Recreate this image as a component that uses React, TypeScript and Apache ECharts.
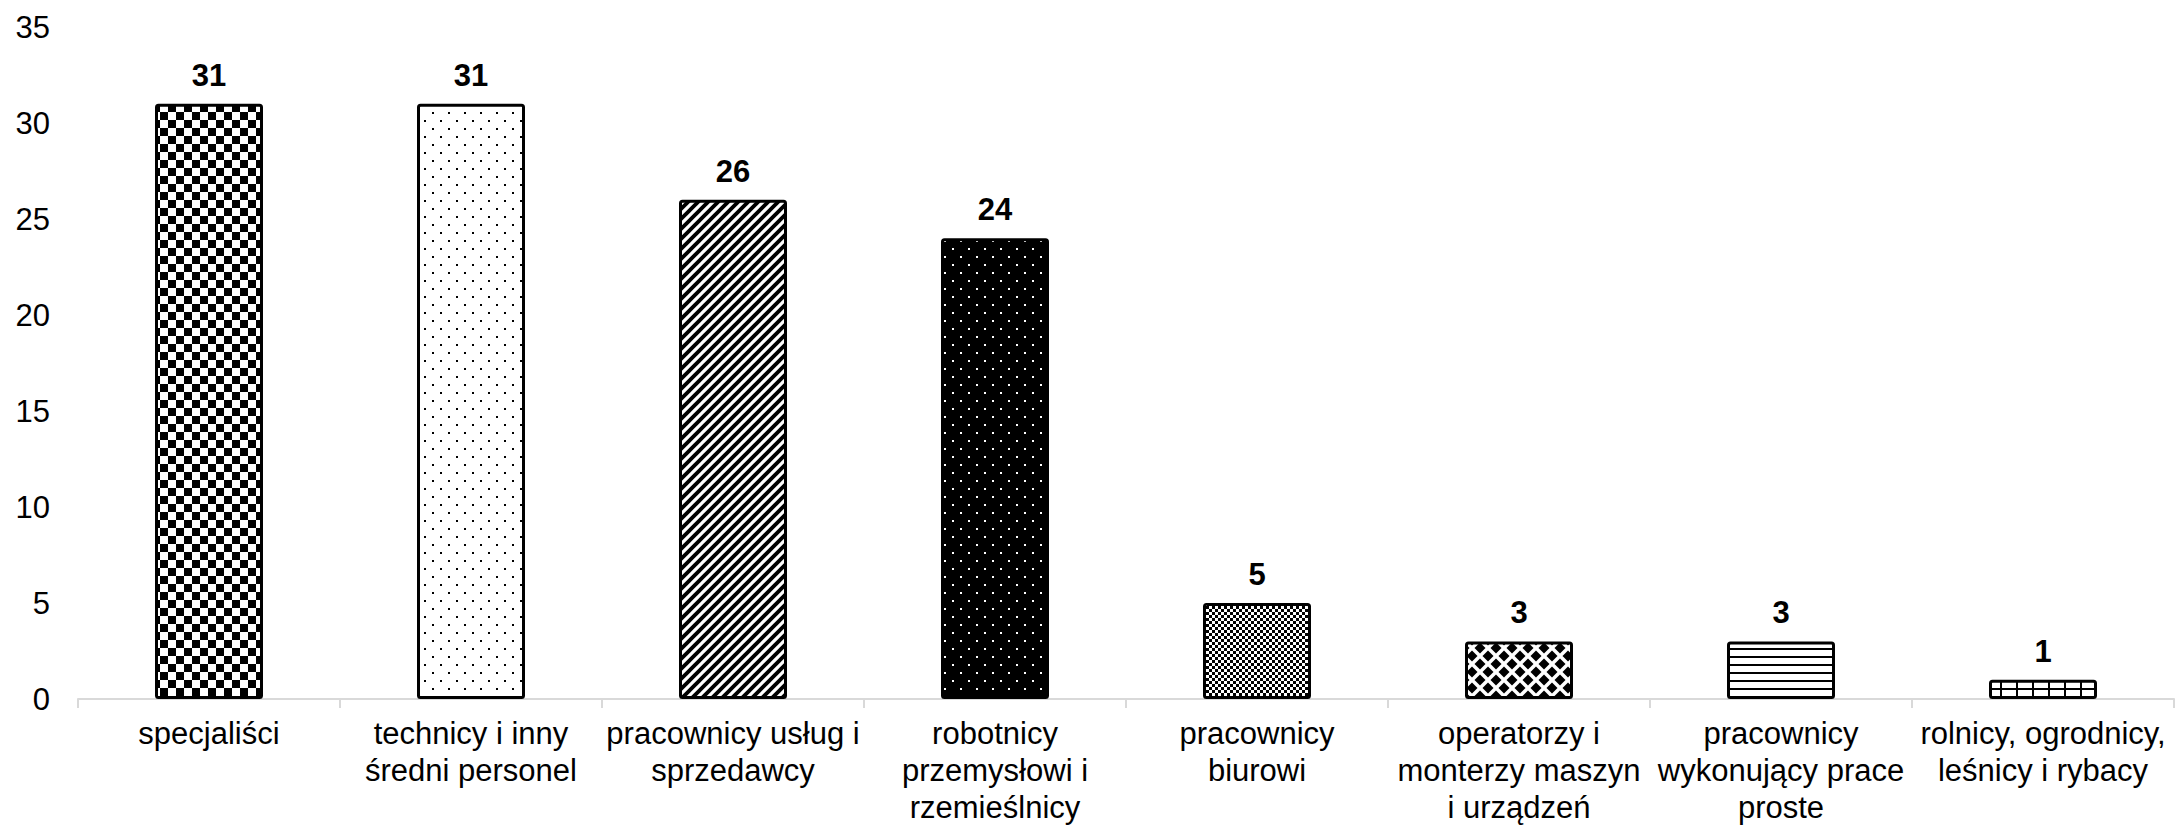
import React, { useEffect, useRef } from "react";
import * as echarts from "echarts";

const categories = [
  "specjaliści",
  "technicy i inny\nśredni personel",
  "pracownicy usług i\nsprzedawcy",
  "robotnicy\nprzemysłowi i\nrzemieślnicy",
  "pracownicy\nbiurowi",
  "operatorzy i\nmonterzy maszyn\ni urządzeń",
  "pracownicy\nwykonujący prace\nproste",
  "rolnicy, ogrodnicy,\nleśnicy i rybacy",
];
const values = [31, 31, 26, 24, 5, 3, 3, 1];
const yTicks = { min: 0, max: 35, interval: 5 };

const FONT = "'Liberation Sans', Arial, sans-serif";

function tile(w: number, h: number, bg: string, content: string, crisp = true) {
  const svg = `<svg xmlns="http://www.w3.org/2000/svg" width="${w}" height="${h}" viewBox="0 0 ${w} ${h}"${
    crisp ? ' shape-rendering="crispEdges"' : ""
  }><rect width="${w}" height="${h}" fill="${bg}"/>${content}</svg>`;
  return {
    image: "data:image/svg+xml;charset=utf-8," + encodeURIComponent(svg),
    repeat: "repeat",
    imageWidth: w,
    imageHeight: h,
  };
}

function diamond(cx: number, cy: number, r: number) {
  return `<polygon points="${cx},${cy - r} ${cx + r},${cy} ${cx},${cy + r} ${cx - r},${cy}" fill="#000"/>`;
}

const patterns = [
  tile(16, 16, "#fff", `<rect x="0" y="0" width="8" height="8" fill="#000"/><rect x="8" y="8" width="8" height="8" fill="#000"/>`),
  tile(16, 16, "#fff", `<rect x="0" y="0" width="2" height="2" fill="#000"/><rect x="8" y="8" width="2" height="2" fill="#000"/>`),
  tile(
    10,
    10,
    "#fff",
    `<g stroke="#000" stroke-width="3.8"><line x1="-5" y1="15" x2="15" y2="-5"/><line x1="-5" y1="5" x2="5" y2="-5"/><line x1="5" y1="15" x2="15" y2="5"/></g>`,
    false
  ),
  tile(16, 16, "#000", `<rect x="0" y="0" width="2" height="2" fill="#fff"/><rect x="8" y="8" width="2" height="2" fill="#fff"/>`),
  tile(6, 6, "#fff", `<rect x="0" y="0" width="3" height="3" fill="#000"/><rect x="3" y="3" width="3" height="3" fill="#000"/>`),
  tile(16, 16, "#fff", diamond(0, 0, 5.5) + diamond(16, 0, 5.5) + diamond(0, 16, 5.5) + diamond(16, 16, 5.5) + diamond(8, 8, 5.5), false),
  tile(8, 8, "#fff", `<rect x="0" y="0" width="8" height="2" fill="#000"/>`),
  tile(16, 8, "#fff", `<rect x="0" y="0" width="16" height="2" fill="#000"/><rect x="0" y="0" width="2" height="8" fill="#000"/>`),
];

export default function App() {
  const ref = useRef<HTMLDivElement>(null);

  useEffect(() => {
    if (!ref.current) return;
    const chart = echarts.init(ref.current, undefined, { renderer: "svg" });
    chart.setOption({
      animation: false,
      backgroundColor: "#fff",
      grid: { left: 78, right: 6, top: 27, bottom: 127, containLabel: false },
      xAxis: {
        type: "category",
        data: categories,
        axisLine: { show: true, lineStyle: { color: "#d9d9d9", width: 2 } },
        axisTick: { show: true, length: 9, lineStyle: { color: "#d9d9d9", width: 2 } },
        axisLabel: {
          interval: 0,
          color: "#000",
          fontSize: 31,
          lineHeight: 37,
          margin: 16,
          fontFamily: FONT,
        },
      },
      yAxis: {
        type: "value",
        min: yTicks.min,
        max: yTicks.max,
        interval: yTicks.interval,
        axisLine: { show: false },
        axisTick: { show: false },
        splitLine: { show: false },
        axisLabel: { color: "#000", fontSize: 31, margin: 28, fontFamily: FONT },
      },
      series: [
        {
          type: "bar",
          barWidth: 108,
          data: values.map((v, i) => ({
            value: v,
            itemStyle: { color: patterns[i] },
          })),
          itemStyle: { borderColor: "#000", borderWidth: 3, borderRadius: 2 },
          label: {
            show: true,
            position: "top",
            distance: 13,
            color: "#000",
            fontWeight: "bold",
            fontSize: 31,
            fontFamily: FONT,
          },
        },
      ],
    });
    return () => chart.dispose();
  }, []);

  return (
    <div
      ref={ref}
      style={{ position: "absolute", left: 0, top: 0, width: 2180, height: 826 }}
    />
  );
}
